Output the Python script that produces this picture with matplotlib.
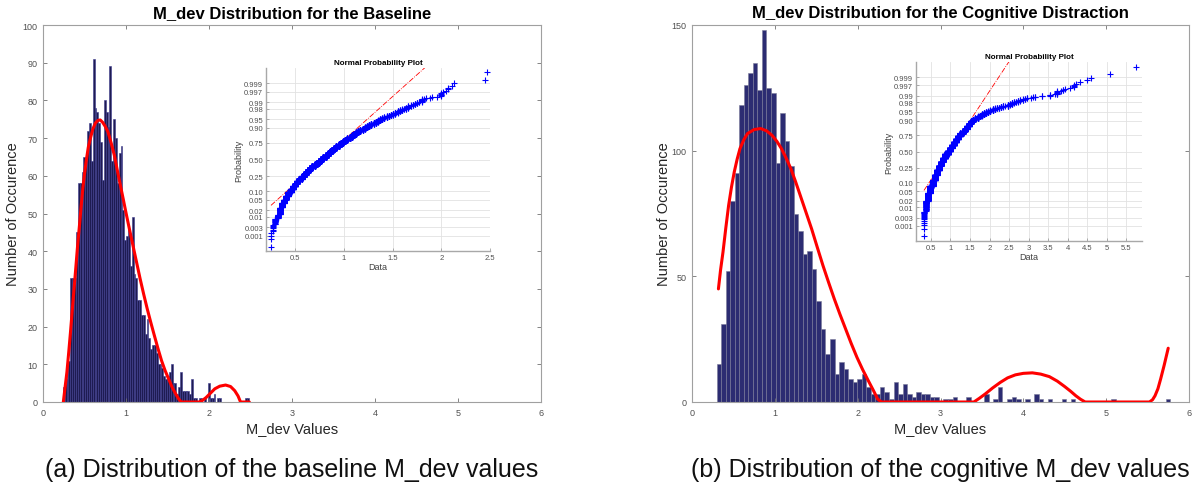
import numpy as np
import matplotlib
matplotlib.use('Agg')
import matplotlib.pyplot as plt
from statistics import NormalDist

plt.rcParams['font.family'] = ['Liberation Sans', 'DejaVu Sans']

# ---------------- data ----------------
base_start = 0.24
base_width = 0.0224
base_counts = [4, 6, 11, 11, 33, 33, 33, 45, 58, 58,
               61, 65, 64, 72, 74, 64, 91, 78, 77, 74,
               69, 59, 80, 77, 73, 89, 64, 75, 70, 58,
               66, 68, 51, 43, 44, 46, 36, 49, 34, 33,
               27, 27, 23, 23, 18, 22, 17, 14, 15, 15,
               13, 10, 10, 9, 7, 6, 7, 8, 10, 5,
               5, 2, 4, 8, 3, 3, 3, 3, 2, 6,
               1, 1, 0, 1, 1, 0, 1, 0, 5, 1,
               1, 2, 0, 1, 1, 0, 0, 0, 0, 0,
               0, 0, 0, 0, 0, 0, 0, 0, 1, 1]

cog_start = 0.296
cog_width = 0.0548
cog_counts = [15, 31, 52, 80, 91, 118, 126, 131, 135, 124,
              148, 125, 123, 95, 115, 104, 94, 75, 68, 59,
              60, 53, 40, 29, 19, 25, 11, 16, 13, 9,
              8, 9, 11, 6, 3, 3, 6, 4, 1, 8,
              3, 7, 3, 2, 4, 3, 3, 2, 2, 0,
              1, 1, 2, 0, 0, 2, 0, 0, 0, 3,
              0, 1, 6, 0, 1, 2, 1, 0, 1, 0,
              3, 1, 0, 1, 0, 0, 1, 0, 1, 0,
              0, 0, 0, 0, 0, 0, 0, 1, 0, 0,
              0, 0, 0, 0, 0, 0, 0, 0, 0, 1]

base_fit_x = [0.245, 0.266, 0.288, 0.31, 0.331, 0.352, 0.374, 0.396, 0.417, 0.44,
              0.46, 0.48, 0.503, 0.525, 0.546, 0.575, 0.602, 0.632, 0.662, 0.69,
              0.718, 0.75, 0.783, 0.82, 0.86, 0.895, 0.933, 0.965, 0.998, 1.04,
              1.084, 1.127, 1.17, 1.213, 1.256, 1.3, 1.342, 1.385, 1.428, 1.47,
              1.514, 1.556, 1.6, 1.635, 1.665, 1.88, 1.92, 1.966, 2.02, 2.07,
              2.13, 2.2, 2.26, 2.31, 2.35, 2.38, 2.486]
base_fit_y = [0, 3.9, 7.9, 13.2, 18.5, 24.2, 30, 35.8, 41.5, 47,
              52, 56.7, 61, 64.6, 67.6, 70.3, 72.5, 74, 74.7, 74.8,
              74.2, 73.1, 71.6, 68.8, 65.4, 61.5, 57.4, 54, 50.4, 46,
              41.5, 37.1, 32.7, 28.6, 24.7, 21, 17.6, 14.2, 11, 8.4,
              6.1, 3.9, 2.1, 0.8, 0, 0, 0.4, 1.2, 2.4, 3.5,
              4.2, 4.5, 4.1, 3, 1.6, 0, 0]

cog_fit_x = [0.319, 0.345, 0.374, 0.408, 0.442, 0.476, 0.51, 0.545, 0.579, 0.625,
             0.67, 0.75, 0.829, 0.9, 0.966, 1.025, 1.08, 1.137, 1.194, 1.25,
             1.307, 1.375, 1.444, 1.512, 1.581, 1.65, 1.718, 1.786, 1.854, 1.922,
             1.991, 2.06, 2.128, 2.19, 2.241, 2.287, 3.403, 3.47, 3.54, 3.63,
             3.722, 3.81, 3.904, 4.0, 4.109, 4.21, 4.314, 4.41, 4.497, 4.57,
             4.633, 4.69, 4.747, 5.522, 5.56, 5.59, 5.625, 5.658, 5.7, 5.749]
cog_fit_y = [45, 52.6, 59.6, 69.2, 78.2, 85.4, 91.5, 96.6, 100.8, 104.3,
             106.8, 108.4, 108.8, 107.9, 106.1, 103.7, 100.8, 97, 92.8, 87.7,
             82.2, 75.6, 68.9, 61.6, 54.3, 47.5, 41, 34.9, 29.1, 23.3,
             17.8, 12.9, 8.5, 4.6, 1.2, 0, 0, 1.5, 3.2, 5.6,
             7.8, 9.6, 10.8, 11.4, 11.6, 11.1, 10.1, 8.3, 6.2, 4.3,
             2.5, 1.1, 0, 0, 0.9, 2.5, 5.3, 9.2, 14.6, 21.4]

prob_ticks = [0.001, 0.003, 0.01, 0.02, 0.05, 0.10, 0.25, 0.50, 0.75,
              0.90, 0.95, 0.98, 0.99, 0.997, 0.999]
prob_labels = ['0.001', '0.003', '0.01', '0.02', '0.05', '0.10', '0.25', '0.50',
               '0.75', '0.90', '0.95', '0.98', '0.99', '0.997', '0.999']

titles = ['M_dev Distribution for the Baseline',
          'M_dev Distribution for the Cognitive Distraction']
captions = ['(a) Distribution of the baseline M_dev values',
            '(b) Distribution of the cognitive M_dev values']

# ---------------- figure ----------------
W, H = 1194, 489
fig = plt.figure(figsize=(W / 100, H / 100), dpi=100)

def fr(x0, y0, x1, y1):
    return [x0 / W, 1 - y1 / H, (x1 - x0) / W, (y1 - y0) / H]

spine_c = '#a0a0a0'
tick_c = '#505050'
nd = NormalDist()


def main_axes(rect, start, width, counts, fx, fy, ymax, yticks, title,
              face, edge, ylab_x):
    ax = fig.add_axes(rect)
    edges = start + width * np.arange(len(counts) + 1)
    ax.bar(edges[:-1], counts, width=width, align='edge', color=face,
           edgecolor=edge, linewidth=0.4)
    ax.plot(fx, fy, color='#ff0000', lw=2.2, solid_capstyle='round',
            solid_joinstyle='round', zorder=5)
    ax.set_xlim(0, 6)
    ax.set_ylim(0, ymax)
    ax.set_xticks(range(7))
    ax.set_yticks(yticks)
    for s in ax.spines.values():
        s.set_color(spine_c)
        s.set_linewidth(0.8)
    ax.tick_params(direction='in', length=3, width=0.6, color='#707070',
                   labelsize=6.5, labelcolor=tick_c, top=True, right=True, pad=4)
    ax.set_xlabel('M_dev Values', fontsize=10.5, color='#262626', labelpad=3)
    ax.set_ylabel('Number of Occurence', fontsize=10.5, color='#262626')
    ax.yaxis.set_label_coords(ylab_x, 0.5)
    ax.set_title(title, fontsize=12, fontweight='bold', pad=6)
    return ax


def prob_axes(rect, start, width, counts, xlim, xticks):
    ax = fig.add_axes(rect)
    centers = start + width * (np.arange(len(counts)) + 0.5)
    data = np.sort(np.repeat(centers, counts))
    n = len(data)
    z = np.array([nd.inv_cdf((i - 0.5) / n) for i in range(1, n + 1)])
    q1, q3 = np.percentile(data, [25, 75])
    z1, z3 = nd.inv_cdf(0.25), nd.inv_cdf(0.75)
    slope = (z3 - z1) / (q3 - q1)
    lx = np.array([data.min(), data.max()])
    ax.plot(lx, z1 + slope * (lx - q1), color='#ff0000', ls='-.', lw=0.6, zorder=2)
    ax.plot(data, z, ls='none', marker='+', color='#0000ff', ms=4.5, mew=0.8, zorder=3)
    ax.set_xlim(*xlim)
    ax.set_ylim(-3.72, 3.72)
    ax.set_yticks([nd.inv_cdf(p) for p in prob_ticks])
    ax.set_yticklabels(prob_labels)
    ax.set_xticks(xticks)
    ax.set_xticklabels([('%g' % t) for t in xticks])
    ax.grid(True, color='#e2e2e2', lw=0.6)
    ax.set_axisbelow(True)
    for k in ['top', 'right']:
        ax.spines[k].set_visible(False)
    for k in ['left', 'bottom']:
        ax.spines[k].set_color('#a8a8a8')
        ax.spines[k].set_linewidth(1.0)
    ax.tick_params(direction='in', length=2, width=0.5, color='#909090',
                   labelsize=5.5, labelcolor=tick_c, pad=2)
    ax.set_xlabel('Data', fontsize=6.5, color='#404040', labelpad=1)
    ax.set_ylabel('Probability', fontsize=6.5, color='#404040', labelpad=1)
    ax.set_title('Normal Probability Plot', fontsize=5.8, fontweight='bold', pad=3)
    ax.patch.set_alpha(0)
    return ax


main_axes(fr(43, 26, 541, 403), base_start, base_width, base_counts,
          base_fit_x, base_fit_y, 100, range(0, 101, 10), titles[0],
          '#1e1b52', '#3d3b8e', -0.046)
main_axes(fr(692, 26, 1189, 403), cog_start, cog_width, cog_counts,
          cog_fit_x, cog_fit_y, 150, [0, 50, 100, 150], titles[1],
          '#2c2c72', '#7a7a98', -0.042)

prob_axes(fr(266, 69, 490, 252), base_start, base_width, base_counts,
          (0.2, 2.5), [0.5, 1, 1.5, 2, 2.5])
prob_axes(fr(916, 63, 1142, 242), cog_start, cog_width, cog_counts,
          (0.12, 5.9), [0.5, 1, 1.5, 2, 2.5, 3, 3.5, 4, 4.5, 5, 5.5])

fig.text(292 / W, 1 - 470 / H, captions[0], ha='center', va='center',
         fontsize=18, color='#111111')
fig.text(940 / W, 1 - 470 / H, captions[1], ha='center', va='center',
         fontsize=18, color='#111111')

fig.savefig('out.png', dpi=100)
